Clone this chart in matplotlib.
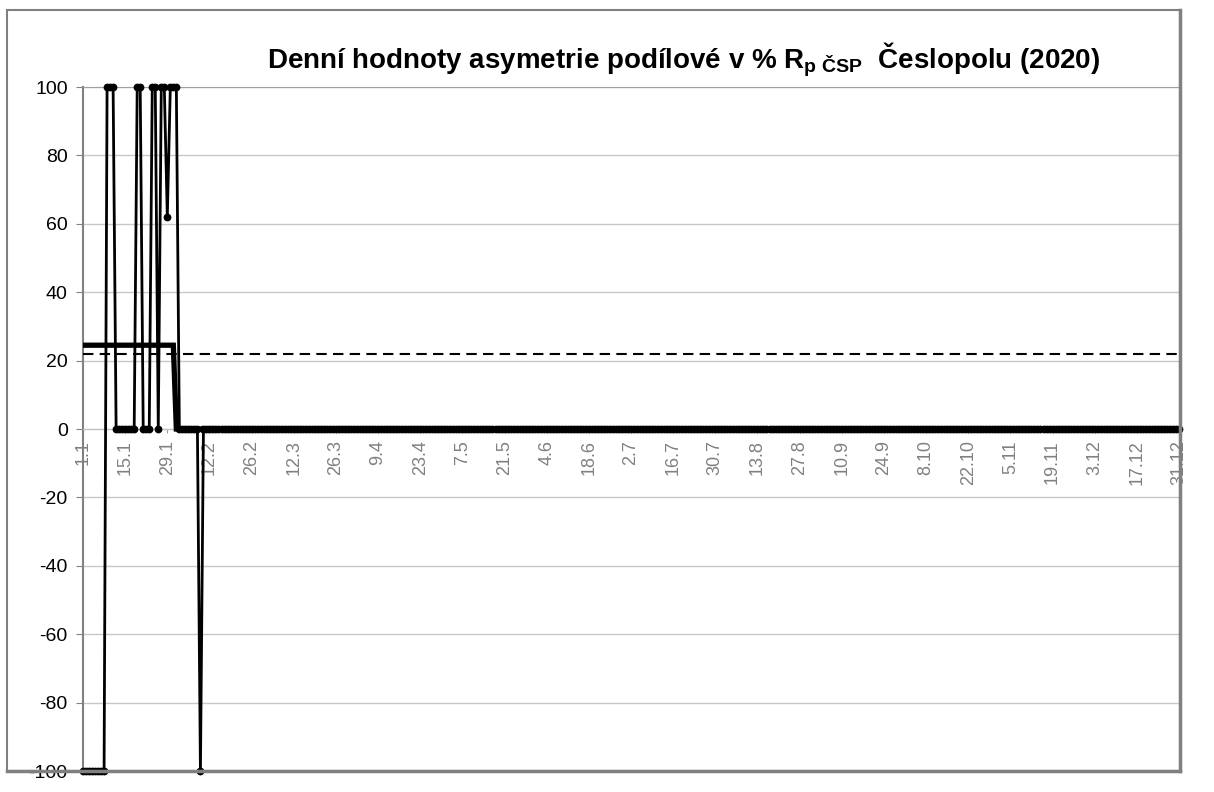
import numpy as np
import matplotlib.pyplot as plt
from matplotlib.patches import Rectangle

plt.rcParams.update({
    "font.family": ["Liberation Sans", "DejaVu Sans"],
    "mathtext.fontset": "custom",
    "mathtext.rm": "Liberation Sans:bold",
    "mathtext.it": "Liberation Sans:bold",
    "mathtext.bf": "Liberation Sans:bold",
})

# daily values (365 points, 1.1 - 31.12)
daily = ([-100] * 8 + [100] * 3 + [0] * 7 + [100] * 2 + [0] * 3 + [100] * 2
         + [0] + [100] * 2 + [62] + [100] * 3 + [0] * 7 + [-100] + [0] * 325)
# monthly level (thick line) and yearly level (dashed line)
monthly = [24.5] * 31 + [0] * 334
yearly = [22] * 365

tick_labels = ["1.1", "15.1", "29.1", "12.2", "26.2", "12.3", "26.3", "9.4",
               "23.4", "7.5", "21.5", "4.6", "18.6", "2.7", "16.7", "30.7",
               "13.8", "27.8", "10.9", "24.9", "8.10", "22.10", "5.11",
               "19.11", "3.12", "17.12", "31.12"]

W, H = 1214, 792
fig = plt.figure(figsize=(W / 100, H / 100), dpi=100)
ax = fig.add_axes([83 / W, 21 / H, (1179 - 83) / W, (771 - 87) / H])

x = np.arange(len(daily))
ax.plot(x, monthly, color="black", lw=3.8, zorder=3, solid_joinstyle="miter")
ax.plot(x, yearly, color="black", lw=1.5, ls=(0, (5, 3)), zorder=3)
ax.plot(x, daily, color="black", lw=2.0, marker="o", ms=4.6, zorder=4,
        clip_on=False)

ax.set_xlim(0, len(daily) - 1)
ax.set_ylim(-100, 100)
ax.set_yticks(np.arange(-100, 101, 20))
ax.set_yticklabels([str(v) for v in range(-100, 101, 20)])
ax.set_xticks(np.arange(0, len(daily), 14))
ax.set_xticklabels(tick_labels)
ax.tick_params(axis="x", labelrotation=90, labelcolor="#808080", labelsize=13,
               length=3, color="#a0a0a0", pad=5)
ax.tick_params(axis="y", labelsize=14, length=5, color="#808080", pad=6)

ax.grid(axis="y", color="#c8c8c8", lw=1)
ax.set_axisbelow(True)
ax.spines["right"].set_visible(False)
ax.spines["top"].set_color("#a0a0a0")
ax.spines["left"].set_color("#808080")
ax.spines["left"].set_linewidth(1.5)
ax.spines["bottom"].set_position(("data", 0))
ax.spines["bottom"].set_color("#c0c0c0")

# outer chart frame
fig.patches.append(Rectangle((7 / W, 1 - 771 / H), (1180 - 7) / W, (771 - 10) / H,
                             transform=fig.transFigure, fill=False,
                             edgecolor="#808080", lw=1.5, zorder=10))
fig.add_artist(plt.Line2D([1180 / W, 1180 / W], [1 - 771 / H, 1 - 10 / H],
                          transform=fig.transFigure, color="#808080", lw=2.5))
fig.add_artist(plt.Line2D([7 / W, 1180 / W], [1 - 771 / H, 1 - 771 / H],
                          transform=fig.transFigure, color="#808080", lw=2.5))

fig.text(684 / W, 1 - 60 / H,
         "Denní hodnoty asymetrie podílové v % R$_{\\mathrm{p\\ ČSP}}$  Česlopolu (2020)",
         ha="center", va="center", fontsize=20, fontweight="bold")

fig.savefig("out.png", dpi=100)
